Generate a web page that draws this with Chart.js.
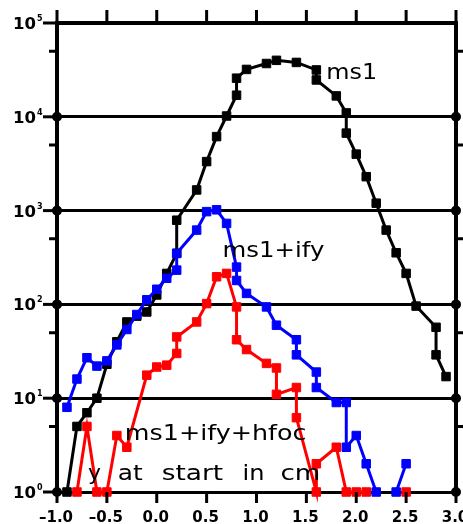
<!DOCTYPE html>
<html lang="en">
<head>
    <meta charset="UTF-8">
    <title>ms1 y at start</title>
    <script src="https://cdn.jsdelivr.net/npm/chart.js"></script>
    <style>
        body { margin: 0; background: #fff; }
        canvas { display: block; }
    </style>
</head>
<body>
    <canvas id="yChart" width="463" height="524"></canvas>

    <script>
        // data (x = y at start in cm, value = counts)
        const ms1X = [-0.9, -0.8, -0.7, -0.6, -0.5, -0.4, -0.3, -0.2, -0.1, 0.0, 0.1, 0.2, 0.2, 0.4, 0.5, 0.6, 0.7, 0.8, 0.8, 0.9,
                      1.1, 1.2, 1.4, 1.6, 1.6, 1.8, 1.9, 1.9, 2.0, 2.1, 2.2, 2.3, 2.4, 2.5, 2.6, 2.8, 2.8, 2.9];
        const ms1Y = [1, 5, 7, 10, 23, 40, 65, 75, 83, 126, 214, 350, 790, 1660, 3330, 6150, 10200, 17000, 25800, 32000,
                      37000, 40000, 38000, 31600, 24700, 16700, 11000, 6700, 4000, 2300, 1200, 620, 355, 214, 96, 57, 29, 17];

        const ifyX = [-0.9, -0.8, -0.7, -0.6, -0.5, -0.4, -0.3, -0.2, -0.1, 0.0, 0.1, 0.2, 0.2, 0.4, 0.5, 0.6, 0.7, 0.8, 0.8, 0.9,
                      1.1, 1.2, 1.4, 1.4, 1.6, 1.6, 1.8, 1.9, 1.9, 2.0, 2.1, 2.2, 2.3, 2.4, 2.5];
        const ifyY = [8, 16, 27, 22, 25, 37, 54, 78, 112, 145, 190, 232, 350, 620, 975, 1020, 730, 250, 180, 131,
                      94, 60, 42, 29, 19, 13, 9, 9, 3, 4, 2, 1, null, 1, 2];

        const hfocX = [-0.8, -0.7, -0.6, -0.5, -0.4, -0.3, -0.1, 0.0, 0.1, 0.2, 0.2, 0.4, 0.5, 0.6, 0.7, 0.8, 0.8, 0.9,
                       1.1, 1.2, 1.2, 1.4, 1.4, 1.6, 1.6, 1.8, 1.9, 2.0, 2.1, 2.3, 2.5];
        const hfocY = [1, 5, 1, 1, 4, 3, 17.6, 21.5, 22.5, 30, 45, 65, 102, 197, 214, 94, 42, 33,
                       23.5, 21, 11, 13, 6.2, 1, 2, 3, 1, 1, 1, null, 1];

        const xTicks = [-1.0, -0.5, 0.0, 0.5, 1.0, 1.5, 2.0, 2.5, 3.0];
        const yDecades = [0, 1, 2, 3, 4, 5];

        // curve labels: text, left x in data units, y value at baseline, width in data units
        const curveLabels = [
            { text: 'ms1', x: 1.7, y: 25000, w: 0.51 },
            { text: 'ms1+ify', x: 0.66, y: 320, w: 1.02 },
            { text: 'ms1+ify+hfoc', x: -0.32, y: 3.6, w: 1.82 }
        ];
        const titleWords = [
            { text: 'y', x: -0.69, w: 0.13 },
            { text: 'at', x: -0.39, w: 0.25 },
            { text: 'start', x: 0.05, w: 0.616 },
            { text: 'in', x: 0.86, w: 0.22 },
            { text: 'cm', x: 1.24, w: 0.4 }
        ];
        const titleY = 1.33;

        function toPoints(xs, ys) {
            return xs.map((x, i) => ({ x: x, y: ys[i] }));
        }

        function drawStretched(ctx, text, left, baseline, width) {
            const natural = ctx.measureText(text).width;
            ctx.save();
            ctx.translate(left, baseline);
            ctx.scale(width / natural, 1);
            ctx.fillText(text, 0, 0);
            ctx.restore();
        }

        // frame, ticks, tick labels and texts drawn on top of the chart
        const framePlugin = {
            id: 'frame',
            afterDatasetsDraw(chart) {
                const ctx = chart.ctx;
                const xs = chart.scales.x;
                const ys = chart.scales.y;
                const a = chart.chartArea;
                ctx.save();
                ctx.strokeStyle = '#000';
                ctx.fillStyle = '#000';
                ctx.lineCap = 'butt';

                // frame
                ctx.lineWidth = 4;
                ctx.beginPath();
                ctx.moveTo(a.left, a.bottom);
                ctx.lineTo(a.left, a.top);
                ctx.lineTo(a.right, a.top);
                ctx.lineTo(a.right, a.bottom);
                ctx.stroke();

                // x ticks top and bottom
                ctx.lineWidth = 3;
                xTicks.forEach(v => {
                    const px = xs.getPixelForValue(v);
                    ctx.beginPath();
                    ctx.moveTo(px, a.top);
                    ctx.lineTo(px, a.top - 13);
                    ctx.moveTo(px, a.bottom);
                    ctx.lineTo(px, a.bottom + 11);
                    ctx.stroke();
                });

                // y ticks, dots and labels
                yDecades.forEach(d => {
                    const py = ys.getPixelForValue(Math.pow(10, d));
                    ctx.lineWidth = 3;
                    ctx.beginPath();
                    ctx.moveTo(a.left, py);
                    ctx.lineTo(a.left - 14, py);
                    ctx.stroke();
                    if (d < 5) {
                        ctx.beginPath();
                        ctx.arc(a.left, py, 5, 0, Math.PI * 2);
                        ctx.arc(a.right, py, 5, 0, Math.PI * 2);
                        ctx.fill();
                        const pm = ys.getPixelForValue(5 * Math.pow(10, d));
                        ctx.beginPath();
                        ctx.moveTo(a.left, pm);
                        ctx.lineTo(a.left - 8, pm);
                        ctx.moveTo(a.right, pm);
                        ctx.lineTo(a.right + 8, pm);
                        ctx.stroke();
                    }
                    ctx.font = 'bold 15px "DejaVu Sans"';
                    ctx.textBaseline = 'alphabetic';
                    drawStretched(ctx, '10', 13, py + 6, 23);
                    ctx.font = 'bold 8px "DejaVu Sans"';
                    ctx.fillText(String(d), 37, py - 2);
                });

                // x tick labels
                ctx.font = 'bold 15px "DejaVu Sans"';
                ctx.textAlign = 'center';
                ctx.textBaseline = 'alphabetic';
                xTicks.forEach(v => {
                    const px = xs.getPixelForValue(v);
                    const txt = v < 0 ? '\u2013' + Math.abs(v).toFixed(1) : v.toFixed(1);
                    ctx.fillText(txt, px - 1, a.bottom + 30);
                });

                // curve labels and axis title inside the plot
                ctx.textAlign = 'left';
                ctx.font = '22px "DejaVu Sans"';
                curveLabels.forEach(l => {
                    const left = xs.getPixelForValue(l.x);
                    const w = xs.getPixelForValue(l.x + l.w) - left;
                    drawStretched(ctx, l.text, left, ys.getPixelForValue(l.y), w);
                });
                titleWords.forEach(l => {
                    const left = xs.getPixelForValue(l.x);
                    const w = xs.getPixelForValue(l.x + l.w) - left;
                    drawStretched(ctx, l.text, left, ys.getPixelForValue(titleY), w);
                });
                ctx.restore();
            }
        };

        function series(label, xs, ys, color, order) {
            return {
                label: label,
                data: toPoints(xs, ys),
                showLine: true,
                borderColor: color,
                backgroundColor: color,
                borderWidth: 3,
                pointStyle: 'rect',
                pointRadius: 6,
                pointBorderWidth: 1,
                pointBorderColor: color,
                pointBackgroundColor: color,
                spanGaps: false,
                clip: false,
                order: order
            };
        }

        const ctx = document.getElementById('yChart').getContext('2d');
        new Chart(ctx, {
            type: 'scatter',
            data: {
                datasets: [
                    series('ms1', ms1X, ms1Y, '#000000', 2),
                    series('ms1+ify', ifyX, ifyY, '#0000ff', 1),
                    series('ms1+ify+hfoc', hfocX, hfocY, '#ff0000', 0)
                ]
            },
            options: {
                responsive: false,
                animation: false,
                devicePixelRatio: 1,
                layout: { padding: { left: 57, right: 7, top: 23, bottom: 32 } },
                plugins: { legend: { display: false }, tooltip: { enabled: false } },
                scales: {
                    x: {
                        type: 'linear',
                        min: -1,
                        max: 3,
                        grid: { display: false, drawTicks: false },
                        border: { display: false },
                        ticks: { display: false }
                    },
                    y: {
                        type: 'logarithmic',
                        min: 1,
                        max: 100000,
                        afterBuildTicks(scale) {
                            scale.ticks = yDecades.map(d => ({ value: Math.pow(10, d) }));
                        },
                        grid: { color: '#000', lineWidth: 3, drawTicks: false },
                        border: { display: false },
                        ticks: { display: false }
                    }
                }
            },
            plugins: [framePlugin]
        });
    </script>
</body>
</html>
